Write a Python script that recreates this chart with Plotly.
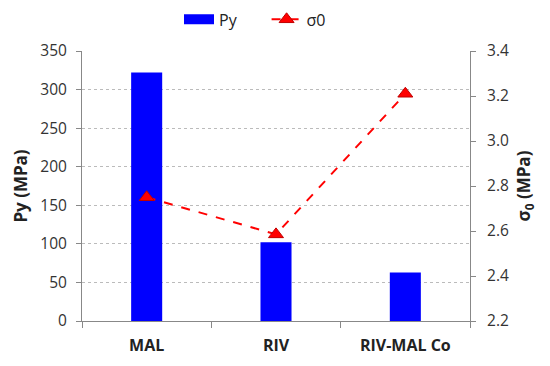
import plotly.graph_objects as go

categories = ["MAL", "RIV", "RIV-MAL Co"]
py_values = [322, 102, 63]
sigma0_values = [2.75, 2.585, 3.21]

FONT = "Open Sans, Liberation Sans, sans-serif"

fig = go.Figure()
fig.add_trace(go.Bar(
    x=categories, y=py_values, name="Py",
    marker=dict(color="#0000FF", line=dict(width=0)),
    width=0.24, yaxis="y", showlegend=False,
))
# legend-only entry giving the wide blue rectangle of the reference legend
fig.add_trace(go.Scatter(
    x=[None], y=[None], name="Py      ", mode="lines",
    line=dict(color="#0000FF", width=12), yaxis="y",
))
fig.add_trace(go.Scatter(
    x=categories, y=sigma0_values, name="σ0", yaxis="y2",
    mode="lines+markers",
    line=dict(color="#FF0000", width=2, dash="dash"),
    marker=dict(symbol="triangle-up", size=13, color="#FF0000",
                line=dict(color="#C00000", width=1)),
))

tickfont = dict(family=FONT, size=15.5, color="#333333")
titlefont = dict(family=FONT, size=17, color="#222222")
fig.update_layout(
    width=550, height=366,
    margin=dict(l=74, r=88, t=43, b=53, autoexpand=False),
    plot_bgcolor="white", paper_bgcolor="white",
    showlegend=True,
    legend=dict(orientation="h", x=0.25, xanchor="left", y=1.18, yanchor="top",
                font=dict(family=FONT, size=16, color="#222222"),
                bgcolor="rgba(0,0,0,0)", borderwidth=0),
    xaxis=dict(
        type="category", tickson="boundaries", ticks="outside", ticklen=6,
        tickcolor="#888888", showline=True, linecolor="#888888", linewidth=1,
        tickfont=dict(family=FONT, size=16, color="#222222", weight="bold"),
        ticklabelstandoff=10,
        showgrid=False, range=[-0.5, 2.5], automargin=False,
    ),
    yaxis=dict(
        range=[0, 350], dtick=50, showline=True, linecolor="#888888",
        ticks="outside", ticklen=5, tickcolor="#888888",
        showgrid=True, gridcolor="#BBBBBB", griddash="dot", gridwidth=1,
        zeroline=False, tickfont=tickfont, automargin=False,
        ticklabelstandoff=6,
        title=dict(text="<b>Py (MPa)</b>", font=titlefont, standoff=8),
    ),
    yaxis2=dict(
        range=[2.2, 3.4], dtick=0.2, tickformat=".1f", overlaying="y", side="right",
        showline=True, linecolor="#888888", ticks="outside", ticklen=5, tickcolor="#888888",
        showgrid=False, zeroline=False, tickfont=tickfont, automargin=False,
        ticklabelstandoff=8,
        title=dict(text="<b>σ<sub>0</sub> (MPa)</b>", font=titlefont, standoff=10),
    ),
)
fig.write_html("out.html")
